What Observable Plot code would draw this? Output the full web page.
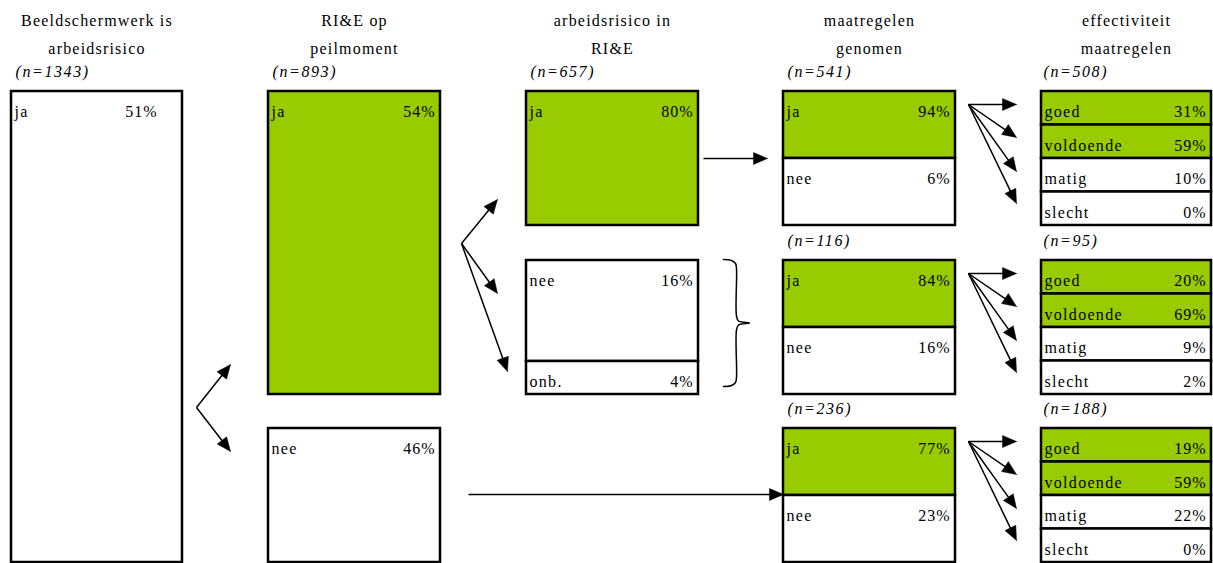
<!DOCTYPE html>
<html>
<head>
<meta charset="utf-8">
<script src="https://cdn.jsdelivr.net/npm/d3@7"></script>
<script src="https://cdn.jsdelivr.net/npm/@observablehq/plot@0.6"></script>
<style>
  html, body { margin: 0; padding: 0; background: #fff; }
  svg { display: block; }
</style>
</head>
<body>
<div id="chart"></div>
<script>
// ---------- DATA ----------
const headerLine1 = ["Beeldschermwerk is", "RI&E op", "arbeidsrisico in", "maatregelen", "effectiviteit"];
const headerLine2 = ["arbeidsrisico", "peilmoment", "RI&E", "genomen", "maatregelen"];
const stepN = [1343, 893, 657];          // n for columns 1-3
const measureN = [541, 116, 236];       // n for "maatregelen genomen" groups
const effectN = [508, 95, 188];         // n for "effectiviteit maatregelen" groups

const screenLabels = ["ja"];
const screenPct = [51];
const rieLabels = ["ja", "nee"];
const riePct = [54, 46];
const riskLabels = ["ja", "nee", "onb."];
const riskPct = [80, 16, 4];
const measureLabels = ["ja", "nee"];
const measureJa = [94, 84, 77];
const measureNee = [6, 16, 23];
const effectLabels = ["goed", "voldoende", "matig", "slecht"];
const effGoed = [31, 20, 19];
const effVoldoende = [59, 69, 59];
const effMatig = [10, 9, 22];
const effSlecht = [0, 2, 0];

// ---------- LAYOUT ----------
const W = 1213, H = 563;
const GREEN = "#99CC00";
const FONT = "'Liberation Serif', 'Times New Roman', serif";
const FS = 16;
const colLeft = [11, 268, 526, 783, 1041];
const colRight = [182, 440, 698, 955, 1211];
const bandTop = [91, 260, 428];
const bandBottom = [225, 394, 562];

const cells = [];
function addCell(col, y1, y2, label, pct, fill, pctInset = 5) {
  cells.push({x1: colLeft[col], x2: colRight[col], y1, y2, label, pct: pct + "%", fill, pctX: colRight[col] - pctInset});
}
addCell(0, bandTop[0], bandBottom[2], screenLabels[0], screenPct[0], "white", 25);
addCell(1, bandTop[0], bandBottom[1], rieLabels[0], riePct[0], GREEN);
addCell(1, bandTop[2], bandBottom[2], rieLabels[1], riePct[1], "white");
addCell(2, bandTop[0], bandBottom[0], riskLabels[0], riskPct[0], GREEN);
addCell(2, bandTop[1], 361, riskLabels[1], riskPct[1], "white");
addCell(2, 361, bandBottom[1], riskLabels[2], riskPct[2], "white");
const effAll = [effGoed, effVoldoende, effMatig, effSlecht];
for (let b = 0; b < 3; b++) {
  const mid = (bandTop[b] + bandBottom[b]) / 2;
  addCell(3, bandTop[b], mid, measureLabels[0], measureJa[b], GREEN);
  addCell(3, mid, bandBottom[b], measureLabels[1], measureNee[b], "white");
  const h = (bandBottom[b] - bandTop[b]) / 4;
  for (let r = 0; r < 4; r++) {
    addCell(4, bandTop[b] + r * h, bandTop[b] + (r + 1) * h, effectLabels[r], effAll[r][b], r < 2 ? GREEN : "white");
  }
}

// header texts
const headers = [];
for (let c = 0; c < 5; c++) {
  const cx = (colLeft[c] + colRight[c]) / 2;
  headers.push({x: cx, y: 25, text: headerLine1[c]});
  headers.push({x: cx, y: 53, text: headerLine2[c]});
}
// n labels
const nLabels = [];
for (let c = 0; c < 3; c++) nLabels.push({x: colLeft[c] + 4, y: bandTop[0] - 15, text: `(n=${stepN[c]})`});
for (let b = 0; b < 3; b++) {
  nLabels.push({x: colLeft[3] + 4, y: bandTop[b] - 15, text: `(n=${measureN[b]})`});
  nLabels.push({x: colLeft[4] + 2, y: bandTop[b] - 15, text: `(n=${effectN[b]})`});
}

// arrows (derived from layout)
const arrows = [];
function arrow(x1, y1, x2, y2) { arrows.push({x1, y1, x2, y2}); }
{
  const vx = colRight[0] + 14, vy = (bandBottom[1] + bandTop[2]) / 2 - 4;
  const tx = colLeft[1] - 38;
  arrow(vx, vy, tx, bandBottom[1] - 30);
  arrow(vx, vy, tx, bandTop[2] + 23);
}
{
  const vx = colRight[1] + 21, vy = 243;
  arrow(vx, vy, colLeft[2] - 29, bandBottom[0] - 26);
  arrow(vx, vy, colLeft[2] - 29, bandTop[1] + 33);
  arrow(vx, vy, colLeft[2] - 19, 371);
}
arrow(colRight[2] + 5, (bandTop[0] + bandBottom[0]) / 2, colLeft[3] - 16, (bandTop[0] + bandBottom[0]) / 2);
arrow(colRight[1] + 28, (bandTop[2] + bandBottom[2]) / 2 - 1, colLeft[3], (bandTop[2] + bandBottom[2]) / 2 - 1);
for (let b = 0; b < 3; b++) {
  const t = bandTop[b];
  const vx = colRight[3] + 13, vy = t + 13;
  const tx = colLeft[4] - 25;
  [13, 46, 80, 112].forEach(dy => arrow(vx, vy, tx, t + dy));
}
const HEAD_L = 14, HEAD_W = 6;
const shafts = [], heads = [];
arrows.forEach((a, i) => {
  const dx = a.x2 - a.x1, dy = a.y2 - a.y1, len = Math.hypot(dx, dy);
  const ux = dx / len, uy = dy / len;
  const bx = a.x2 - ux * HEAD_L, by = a.y2 - uy * HEAD_L;
  shafts.push({x1: a.x1, y1: a.y1, x2: bx + ux, y2: by + uy});
  heads.push({i, x: a.x2, y: a.y2});
  heads.push({i, x: bx - uy * HEAD_W, y: by + ux * HEAD_W});
  heads.push({i, x: bx + uy * HEAD_W, y: by - ux * HEAD_W});
  heads.push({i, x: a.x2, y: a.y2});
});

// curly brace
const bx0 = colRight[2] + 25, bxm = colRight[2] + 38, bxp = colRight[2] + 51;
const bt = bandTop[1] - 1, bb = bandBottom[1] - 8, bm = (bt + bb) / 2;
const brace = [
  [bx0, bt], [bx0 + 8, bt + 1], [bxm - 1, bt + 4], [bxm, bt + 9],
  [bxm, bm - 7], [bxm + 2, bm - 2], [bxp, bm],
  [bxm + 2, bm + 2], [bxm, bm + 7],
  [bxm, bb - 9], [bxm - 1, bb - 4], [bx0 + 8, bb - 1], [bx0, bb]
].map(([x, y]) => ({x, y}));

const chart = Plot.plot({
  width: W, height: H,
  margin: 0,
  x: {domain: [0, W], range: [0, W], axis: null},
  y: {domain: [0, H], range: [0, H], axis: null},
  style: {fontFamily: FONT, background: "white"},
  marks: [
    Plot.rect(cells, {x1: "x1", x2: "x2", y1: "y1", y2: "y2", fill: d => d.fill, stroke: "black", strokeWidth: 2.5}),
    Plot.text(cells, {x: d => d.x1 + 3, y: d => d.y1 + 25.5, text: "label", textAnchor: "start", lineAnchor: "bottom", fontSize: FS, fontFamily: FONT, fill: "black"}),
    Plot.text(cells, {x: "pctX", y: d => d.y1 + 25.5, text: "pct", textAnchor: "end", lineAnchor: "bottom", fontSize: FS, fontFamily: FONT, fill: "black"}),
    Plot.text(headers, {x: "x", y: "y", text: "text", textAnchor: "middle", lineAnchor: "bottom", fontSize: FS, fontFamily: FONT, fill: "black"}),
    Plot.text(nLabels, {x: "x", y: "y", text: "text", textAnchor: "start", lineAnchor: "bottom", fontSize: FS, fontStyle: "italic", fontFamily: FONT, fill: "black"}),
    Plot.link(shafts, {x1: "x1", y1: "y1", x2: "x2", y2: "y2", stroke: "black", strokeWidth: 1.5}),
    Plot.line(heads, {x: "x", y: "y", z: "i", fill: "black", stroke: "black", strokeWidth: 0.5}),
    Plot.line(brace, {x: "x", y: "y", stroke: "black", strokeWidth: 1.5, curve: "catmull-rom"})
  ]
});
// letter spacing for the text marks, in mark order: labels, percentages, headers, n labels
const spacing = [1.3, 1.0, 1.2, 1.6];
d3.select(chart).selectAll("g[aria-label='text']").each(function (_, i) {
  d3.select(this).selectAll("text").style("letter-spacing", spacing[i] + "px");
});
document.getElementById("chart").appendChild(chart);
</script>
</body>
</html>
